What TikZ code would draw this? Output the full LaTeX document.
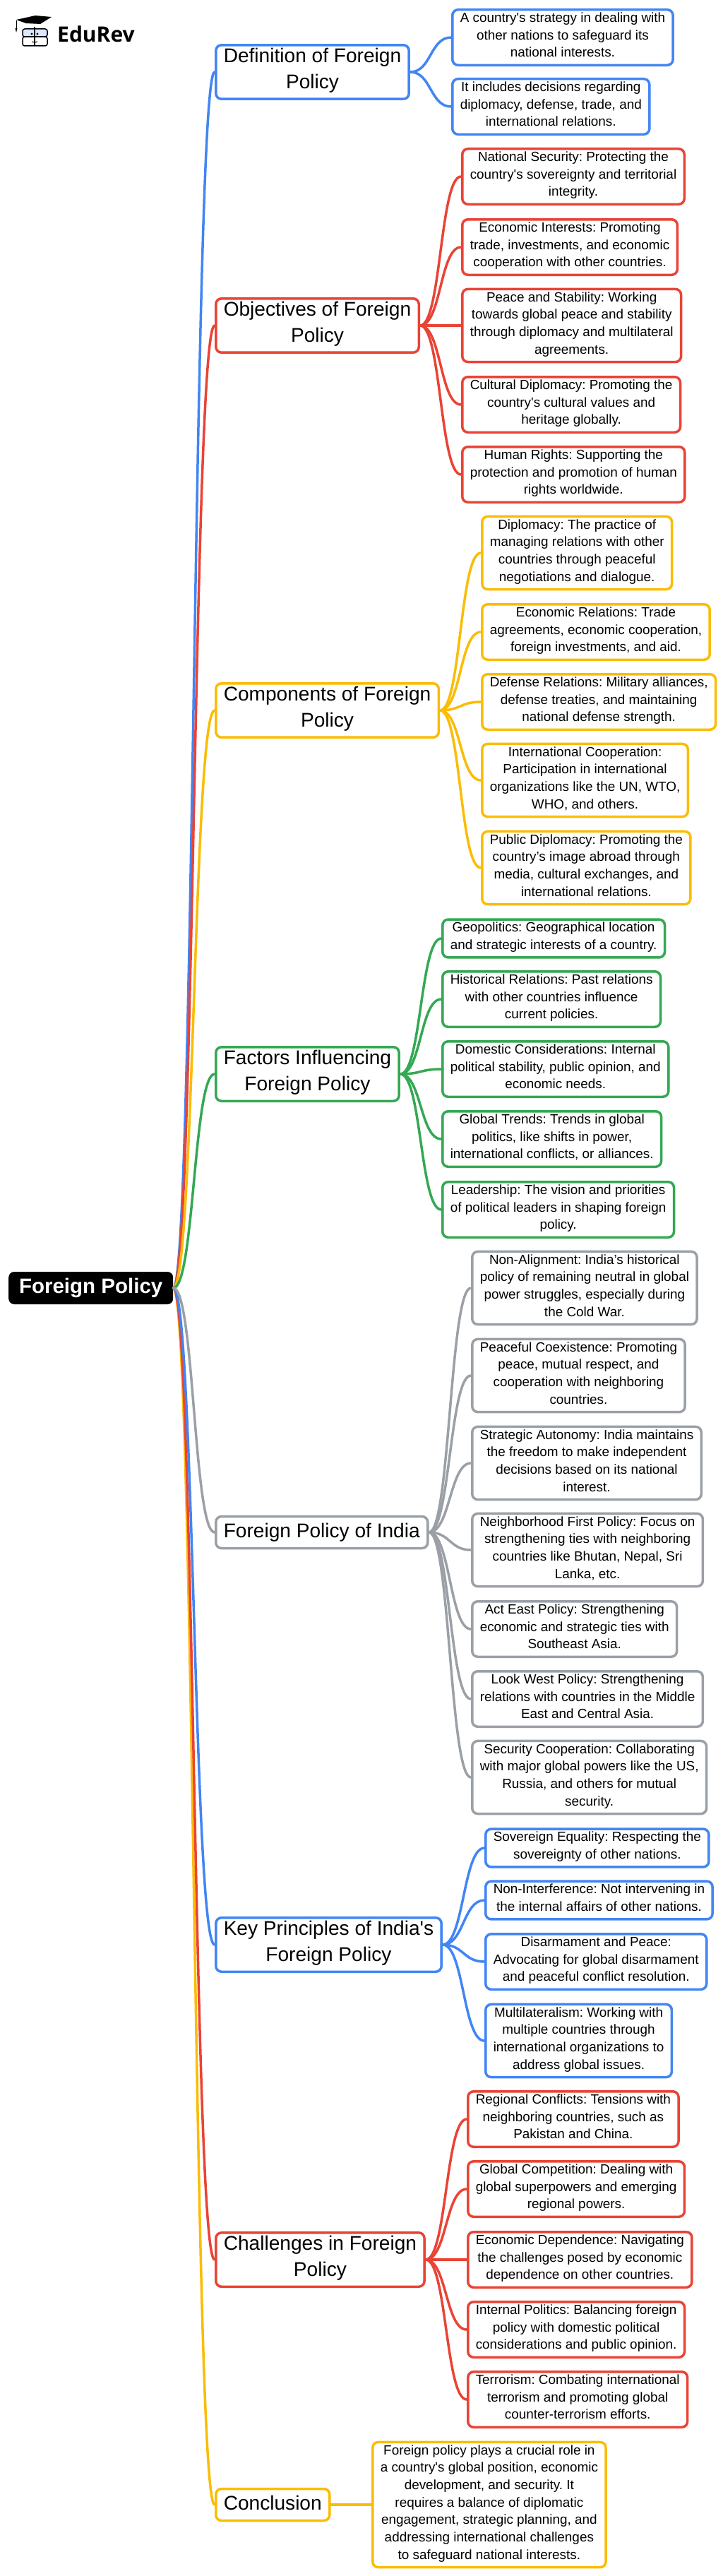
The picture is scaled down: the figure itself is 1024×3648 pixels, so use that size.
\documentclass[tikz,border=0pt]{standalone}
\usepackage{fontspec}
\newfontfamily\mapfont{Liberation Sans}
\newfontfamily\logofont{Open Sans}
\usetikzlibrary{positioning}
\definecolor{mapblue}{HTML}{4285F4}
\definecolor{mapred}{HTML}{EA4335}
\definecolor{mapyellow}{HTML}{FBBC04}
\definecolor{mapgreen}{HTML}{34A853}
\definecolor{mapgray}{HTML}{9AA0A6}
\tikzset{
	box/.style={draw=#1,line width=3.5pt,rounded corners=8pt,anchor=west,align=center,inner xsep=11pt,inner ysep=4pt,text=black,
		execute at begin node=\strut,execute at end node=\strut},
	leaf/.style={box=#1,font=\mapfont\fontsize{18.9}{24.7}\selectfont},
	topic/.style={box=#1,font=\mapfont\fontsize{28.1}{37}\selectfont},
	link/.style={draw=#1,line width=3.5pt,line cap=round},
}
\frenchspacing
\begin{document}
\begin{tikzpicture}[x=1pt,y=-1pt]

\useasboundingbox (0,0) rectangle (1024,3648);

% logo
\fill[black] (23,28) -- (50,22) -- (73,24) -- (57,34) -- (37,33) -- cycle;
\draw[black,line width=1pt] (23,29) -- (23,42);
\fill[black] (21.5,40) -- (24.5,40) -- (23,46) -- cycle;
\draw[black,line width=1.5pt,fill=mapblue!20,rounded corners=3pt] (32,41) rectangle (67,52);
\draw[black,line width=1.5pt,rounded corners=3pt] (32,52) rectangle (67,65);
\draw[black,line width=1.5pt] (49,38) -- (49,65);
\fill[black] (45,48) circle (1.6) (53,48) circle (1.6);
\draw[black,line width=1pt] (45,59) -- (49,60) -- (53,59);
\node[anchor=west,font=\logofont\bfseries\fontsize{30}{36}\selectfont,inner sep=0pt] (brand) at (81,48) {EduRev};

% root
\node[anchor=west,fill=black,rounded corners=8pt,text=white,align=center,font=\mapfont\bfseries\fontsize{29.5}{37}\selectfont,minimum width=233pt,minimum height=46pt,inner sep=0pt] (root) at (12,1824) {Foreign Policy};

% topics
\node[topic=mapblue] (defn) at (304,102) {Definition of Foreign\\Policy};
\node[topic=mapred] (obj) at (304,461) {Objectives of Foreign\\Policy};
\node[topic=mapyellow] (comp) at (304,1006) {Components of Foreign\\Policy};
\node[topic=mapgreen] (fact) at (304,1521) {Factors Influencing\\Foreign Policy};
\node[topic=mapgray] (india) at (304,2170) {Foreign Policy of India};
\node[topic=mapblue] (princ) at (304,2754) {Key Principles of India's\\Foreign Policy};
\node[topic=mapred] (chal) at (304,3200) {Challenges in Foreign\\Policy};
\node[topic=mapyellow] (concl) at (304,3547) {Conclusion};

% definition
\node[leaf=mapblue] (defna) at (639,53) {A country's strategy in dealing with\\other nations to safeguard its\\national interests.};
\node[leaf=mapblue] (defnb) at (639,151) {It includes decisions regarding\\diplomacy, defense, trade, and\\international relations.};

% objectives
\node[leaf=mapred] (obja) at (653,250) {National Security: Protecting the\\country's sovereignty and territorial\\integrity.};
\node[leaf=mapred] (objb) at (653,350) {Economic Interests: Promoting\\trade, investments, and economic\\cooperation with other countries.};
\node[leaf=mapred] (objc) at (653,461) {Peace and Stability: Working\\towards global peace and stability\\through diplomacy and multilateral\\agreements.};
\node[leaf=mapred] (objd) at (653,573) {Cultural Diplomacy: Promoting the\\country's cultural values and\\heritage globally.};
\node[leaf=mapred] (obje) at (653,672) {Human Rights: Supporting the\\protection and promotion of human\\rights worldwide.};

% components
\node[leaf=mapyellow] (compa) at (681,783) {Diplomacy: The practice of\\managing relations with other\\countries through peaceful\\negotiations and dialogue.};
\node[leaf=mapyellow] (compb) at (681,895) {Economic Relations: Trade\\agreements, economic cooperation,\\foreign investments, and aid.};
\node[leaf=mapyellow] (compc) at (681,994) {Defense Relations: Military alliances,\\defense treaties, and maintaining\\national defense strength.};
\node[leaf=mapyellow] (compd) at (681,1105) {International Cooperation:\\Participation in international\\organizations like the UN, WTO,\\WHO, and others.};
\node[leaf=mapyellow] (compe) at (681,1229) {Public Diplomacy: Promoting the\\country’s image abroad through\\media, cultural exchanges, and\\international relations.};

% factors
\node[leaf=mapgreen] (facta) at (625,1329) {Geopolitics: Geographical location\\and strategic interests of a country.};
\node[leaf=mapgreen] (factb) at (625,1415) {Historical Relations: Past relations\\with other countries influence\\current policies.};
\node[leaf=mapgreen] (factc) at (625,1514) {Domestic Considerations: Internal\\political stability, public opinion, and\\economic needs.};
\node[leaf=mapgreen] (factd) at (625,1613) {Global Trends: Trends in global\\politics, like shifts in power,\\international conflicts, or alliances.};
\node[leaf=mapgreen] (facte) at (625,1713) {Leadership: The vision and priorities\\of political leaders in shaping foreign\\policy.};

% india
\node[leaf=mapgray] (indiaa) at (667,1824) {Non-Alignment: India’s historical\\policy of remaining neutral in global\\power struggles, especially during\\the Cold War.};
\node[leaf=mapgray] (indiab) at (667,1948) {Peaceful Coexistence: Promoting\\peace, mutual respect, and\\cooperation with neighboring\\countries.};
\node[leaf=mapgray] (indiac) at (667,2072) {Strategic Autonomy: India maintains\\the freedom to make independent\\decisions based on its national\\interest.};
\node[leaf=mapgray] (indiad) at (667,2195) {Neighborhood First Policy: Focus on\\strengthening ties with neighboring\\countries like Bhutan, Nepal, Sri\\Lanka, etc.};
\node[leaf=mapgray] (indiae) at (667,2307) {Act East Policy: Strengthening\\economic and strategic ties with\\Southeast Asia.};
\node[leaf=mapgray] (indiaf) at (667,2406) {Look West Policy: Strengthening\\relations with countries in the Middle\\East and Central Asia.};
\node[leaf=mapgray] (indiag) at (667,2517) {Security Cooperation: Collaborating\\with major global powers like the US,\\Russia, and others for mutual\\security.};

% principles
\node[leaf=mapblue] (princa) at (686,2617) {Sovereign Equality: Respecting the\\sovereignty of other nations.};
\node[leaf=mapblue] (princb) at (686,2691) {Non-Interference: Not intervening in\\the internal affairs of other nations.};
\node[leaf=mapblue] (princc) at (686,2778) {Disarmament and Peace:\\Advocating for global disarmament\\and peaceful conflict resolution.};
\node[leaf=mapblue] (princd) at (686,2890) {Multilateralism: Working with\\multiple countries through\\international organizations to\\address global issues.};

% challenges
\node[leaf=mapred] (chala) at (661,3001) {Regional Conflicts: Tensions with\\neighboring countries, such as\\Pakistan and China.};
\node[leaf=mapred] (chalb) at (661,3100) {Global Competition: Dealing with\\global superpowers and emerging\\regional powers.};
\node[leaf=mapred] (chalc) at (661,3200) {Economic Dependence: Navigating\\the challenges posed by economic\\dependence on other countries.};
\node[leaf=mapred] (chald) at (661,3299) {Internal Politics: Balancing foreign\\policy with domestic political\\considerations and public opinion.};
\node[leaf=mapred] (chale) at (661,3398) {Terrorism: Combating international\\terrorism and promoting global\\counter-terrorism efforts.};

% conclusion
\node[leaf=mapyellow] (concla) at (526,3547) {Foreign policy plays a crucial role in\\a country's global position, economic\\development, and security. It\\requires a balance of diplomatic\\engagement, strategic planning, and\\addressing international challenges\\to safeguard national interests.};

% links from the root
\foreach \kid/\col in {defn/mapblue,obj/mapred,comp/mapyellow,fact/mapgreen,concl/mapyellow,chal/mapred,princ/mapblue,india/mapgray}
	\draw[link=\col] (root.east) .. controls +(30,0) and +(-30,0) .. (\kid.west);

% links to the leaves
\foreach \parent/\kids/\col in {defn/{defna,defnb}/mapblue,
		obj/{obja,objb,objc,objd,obje}/mapred,
		comp/{compa,compb,compc,compd,compe}/mapyellow,
		fact/{facta,factb,factc,factd,facte}/mapgreen,
		india/{indiaa,indiab,indiac,indiad,indiae,indiaf,indiag}/mapgray,
		princ/{princa,princb,princc,princd}/mapblue,
		chal/{chala,chalb,chalc,chald,chale}/mapred,
		concl/{concla}/mapyellow}
	\foreach \kid in \kids
		\draw[link=\col] (\parent.east) .. controls +(30,0) and +(-30,0) .. (\kid.west);

\end{tikzpicture}
\end{document}
